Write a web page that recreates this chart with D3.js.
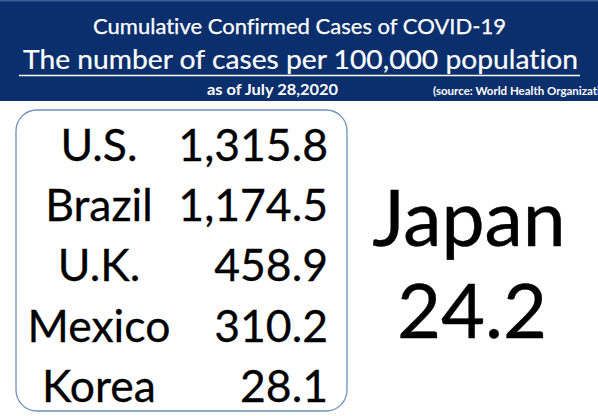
<!DOCTYPE html>
<html>
<head>
  <meta charset="utf-8">
  <title>Cumulative Confirmed Cases of COVID-19</title>
  <script src="https://cdn.jsdelivr.net/npm/d3@7"></script>
  <style>
    html, body { margin: 0; padding: 0; background: #fff; }
    svg { display: block; font-family: Lato, "Open Sans", sans-serif;
          font-variant-ligatures: none; }
  </style>
</head>
<body>
<div id="chart"></div>
<script>
// data
var countries = ["U.S.", "Brazil", "U.K.", "Mexico", "Korea"];
var casesPer100k = [1315.8, 1174.5, 458.9, 310.2, 28.1];
var highlightName = "Japan";
var highlightValue = 24.2;
var titleLines = ["Cumulative Confirmed Cases of COVID-19",
                  "The number of cases per 100,000 population"];
var dateLabel = "as of July 28,2020";
var sourceLabel = "(source: World Health Organization)";

var W = 598, H = 416;
var fmt = d3.format(",.1f");

var svg = d3.select("#chart").append("svg")
    .attr("width", W).attr("height", H);

// header band
svg.append("rect").attr("x", 0).attr("y", 0)
    .attr("width", W).attr("height", 101).attr("fill", "#0b2f6c");
svg.append("rect").attr("x", 0).attr("y", 0)
    .attr("width", W).attr("height", 1.5).attr("fill", "#3a5f95");

svg.append("text").text(titleLines[0])
    .attr("x", 299.5).attr("y", 34).attr("text-anchor", "middle")
    .attr("font-size", 20.5).attr("fill", "#fff")
    .attr("stroke", "#fff").attr("stroke-width", 0.25)
    .attr("textLength", 413).attr("lengthAdjust", "spacingAndGlyphs");

svg.append("text").text(titleLines[1])
    .attr("x", 300.5).attr("y", 69).attr("text-anchor", "middle")
    .attr("font-size", 27.5).attr("fill", "#fff")
    .attr("stroke", "#fff").attr("stroke-width", 0.2)
    .attr("textLength", 555).attr("lengthAdjust", "spacingAndGlyphs");
svg.append("line").attr("x1", 19).attr("x2", 580).attr("y1", 75.5).attr("y2", 75.5)
    .attr("stroke", "#fff").attr("stroke-width", 1.6);

svg.append("text").text(dateLabel)
    .attr("x", 207).attr("y", 95)
    .attr("font-size", 16).attr("font-weight", "bold").attr("fill", "#fff")
    .attr("textLength", 131).attr("lengthAdjust", "spacingAndGlyphs");

svg.append("text").text(sourceLabel)
    .attr("x", 433).attr("y", 95)
    .attr("font-size", 11.5).attr("font-weight", "bold").attr("fill", "#fff");

// rounded box with the table
svg.append("rect").attr("x", 16).attr("y", 110)
    .attr("width", 331).attr("height", 301).attr("rx", 21).attr("ry", 21)
    .attr("fill", "#fff").attr("stroke", "#6d91bb").attr("stroke-width", 1.3);

var y = d3.scalePoint().domain(countries).range([161, 401.7]);

var rows = svg.append("g").selectAll("g")
    .data(countries.map(function(c, i) { return {name: c, value: casesPer100k[i]}; }))
  .join("g")
    .attr("transform", function(d) { return "translate(0," + y(d.name) + ")"; });

rows.append("text").text(function(d) { return d.name; })
    .attr("x", 99).attr("text-anchor", "middle")
    .attr("font-size", 44.5).attr("fill", "#000")
    .attr("stroke", "#000").attr("stroke-width", 0.3);

rows.append("text").text(function(d) { return fmt(d.value); })
    .attr("x", 328).attr("text-anchor", "end")
    .attr("font-size", 44.5).attr("fill", "#000")
    .attr("stroke", "#000").attr("stroke-width", 0.3);

// Japan
svg.append("text").text(highlightName)
    .attr("x", 469).attr("y", 246).attr("text-anchor", "middle")
    .attr("font-size", 77).attr("fill", "#000")
    .attr("stroke", "#000").attr("stroke-width", 0.4);
svg.append("text").text(fmt(highlightValue))
    .attr("x", 472).attr("y", 338).attr("text-anchor", "middle")
    .attr("font-size", 76).attr("fill", "#000")
    .attr("stroke", "#000").attr("stroke-width", 0.4);
</script>
</body>
</html>
